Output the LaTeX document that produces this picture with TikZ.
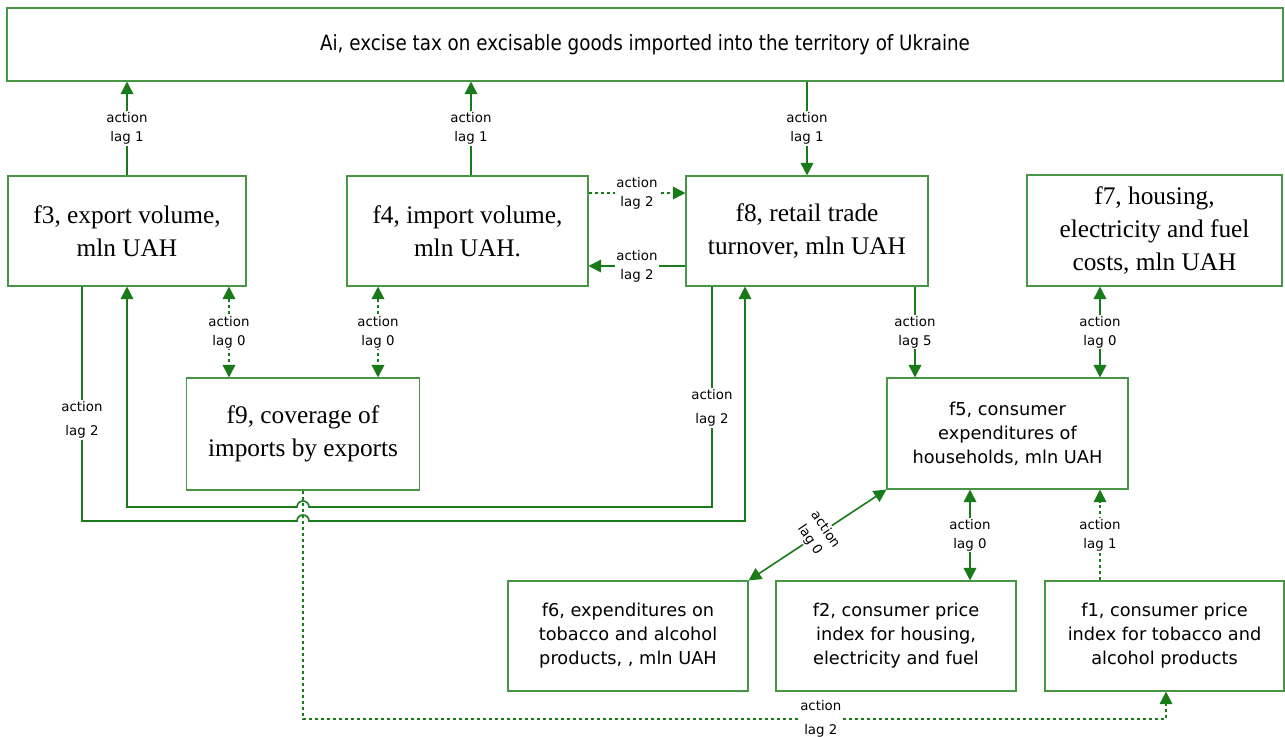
\documentclass[tikz,border=0pt]{standalone}
\usepackage{fontspec}
\setmainfont{Liberation Serif}
\newfontfamily\tahoma{DejaVu Sans}
\newfontfamily\tahomanarrow[FakeStretch=0.87]{DejaVu Sans}
\usetikzlibrary{arrows.meta,calc}
\definecolor{linegreen}{RGB}{24,122,24}
\definecolor{boxgreen}{RGB}{70,150,70}

\begin{document}
\begin{tikzpicture}[x=0.75pt,y=-0.75pt,>={Triangle[length=9.5pt,width=9.5pt]},
    box/.style={draw=boxgreen,line width=0.8pt,minimum width=180pt,minimum height=82.5pt,align=center,inner sep=2pt},
    serif/.style={font=\fontsize{19}{24.5}\selectfont},
    sans/.style={font=\tahoma\fontsize{13.3}{18}\selectfont},
    link/.style={draw=linegreen,line width=1.2pt},
    dots/.style={dash pattern=on 2.5pt off 2pt},
    lbl/.style={fill=white,inner sep=1pt,align=center,text=black,font=\tahoma\fontsize{10}{14}\selectfont}]

    \useasboundingbox (0,0) rectangle (1285,736);

    % boxes
    \node[box,minimum width=957pt,minimum height=54.75pt,font=\tahomanarrow\fontsize{15.8}{18}\selectfont] (Ai) at (645,44.5) {Ai, excise tax on excisable goods imported into the territory of Ukraine};
    \node[box,serif,minimum width=178.5pt] (f3) at (127,231) {f3, export volume,\\mln UAH};
    \node[box,serif,minimum width=180.75pt] (f4) at (467.5,231) {f4, import volume,\\mln UAH.};
    \node[box,serif,minimum width=181.5pt] (f8) at (807,231) {f8, retail trade\\turnover, mln UAH};
    \node[box,serif,minimum width=191.25pt,minimum height=83.25pt] (f7) at (1154.5,230.5) {f7, housing,\\electricity and fuel\\costs, mln UAH};
    \node[box,serif,minimum width=174.75pt,minimum height=84pt] (f9) at (303,434) {f9, coverage of\\imports by exports};
    \node[box,sans,minimum width=180.75pt,minimum height=83.25pt] (f5) at (1007.5,433.5) {f5, consumer\\expenditures of\\households, mln UAH};
    \node[box,sans] (f6) at (628,636) {f6, expenditures on\\tobacco and alcohol\\products, , mln UAH};
    \node[box,sans] (f2) at (896,636) {f2, consumer price\\index for housing,\\electricity and fuel};
    \node[box,sans,minimum width=179.25pt] (f1) at (1164.5,636) {f1, consumer price\\index for tobacco and\\alcohol products};

    % links to the tax
    \draw[link,->] (f3.north) -- node[lbl] {action\\lag 1} (Ai.south -| f3.north);
    \draw[link,->] (f4.north -| 471,0) -- node[lbl] {action\\lag 1} (Ai.south -| 471,0);
    \draw[link,->] (Ai.south -| f8.north) -- node[lbl] {action\\lag 1} (f8.north);

    % f4 and f8
    \draw[link,dots,->] ([yshift=28.5pt]f4.east) -- node[lbl] {action\\lag 2} ([yshift=28.5pt]f8.west);
    \draw[link,->] ([yshift=-26.25pt]f8.west) -- node[lbl] {action\\lag 2} ([yshift=-26.25pt]f4.east);

    % f9 with f3 and f4
    \draw[link,dots,<->] (f3.south -| 229,0) -- node[lbl] {action\\lag 0} (f9.north -| 229,0);
    \draw[link,dots,<->] (f4.south -| 378,0) -- node[lbl] {action\\lag 0} (f9.north -| 378,0);

    % long links under f9 (with hops)
    \draw[link,->] (f8.south -| 712,0) -- node[lbl,pos=0.55] {action\\[4pt]lag 2} (712,507) -- (309,507)
        arc[start angle=0,end angle=-180,radius=6] -- (127,507) -- (f3.south);
    \draw[link,->] (f3.south -| 82,0) -- node[lbl,pos=0.57] {action\\[4pt]lag 2} (82,521) -- (297,521)
        arc[start angle=180,end angle=360,radius=6] -- (745,521) -- (f8.south -| 745,0);
    \draw[link,dots,->] (f9.south) -- (303,719) -- node[lbl,pos=0.6] {action\\[4pt]lag 2} (1166,719) -- (f1.south -| 1166,0);

    % links of f5
    \draw[link,->] (f8.south -| 915,0) -- node[lbl] {action\\lag 5} (f5.north -| 915,0);
    \draw[link,<->] (f7.south -| 1100,0) -- node[lbl] {action\\lag 0} (f5.north -| 1100,0);
    \draw[link,<->] (f5.south west) -- node[lbl,rotate=-56] {action\\lag 0} (f6.north east);
    \draw[link,<->] (f5.south -| 970,0) -- node[lbl] {action\\lag 0} (f2.north -| 970,0);
    \draw[link,dots,->] (f1.north -| 1100,0) -- node[lbl] {action\\lag 1} (f5.south -| 1100,0);

\end{tikzpicture}
\end{document}
